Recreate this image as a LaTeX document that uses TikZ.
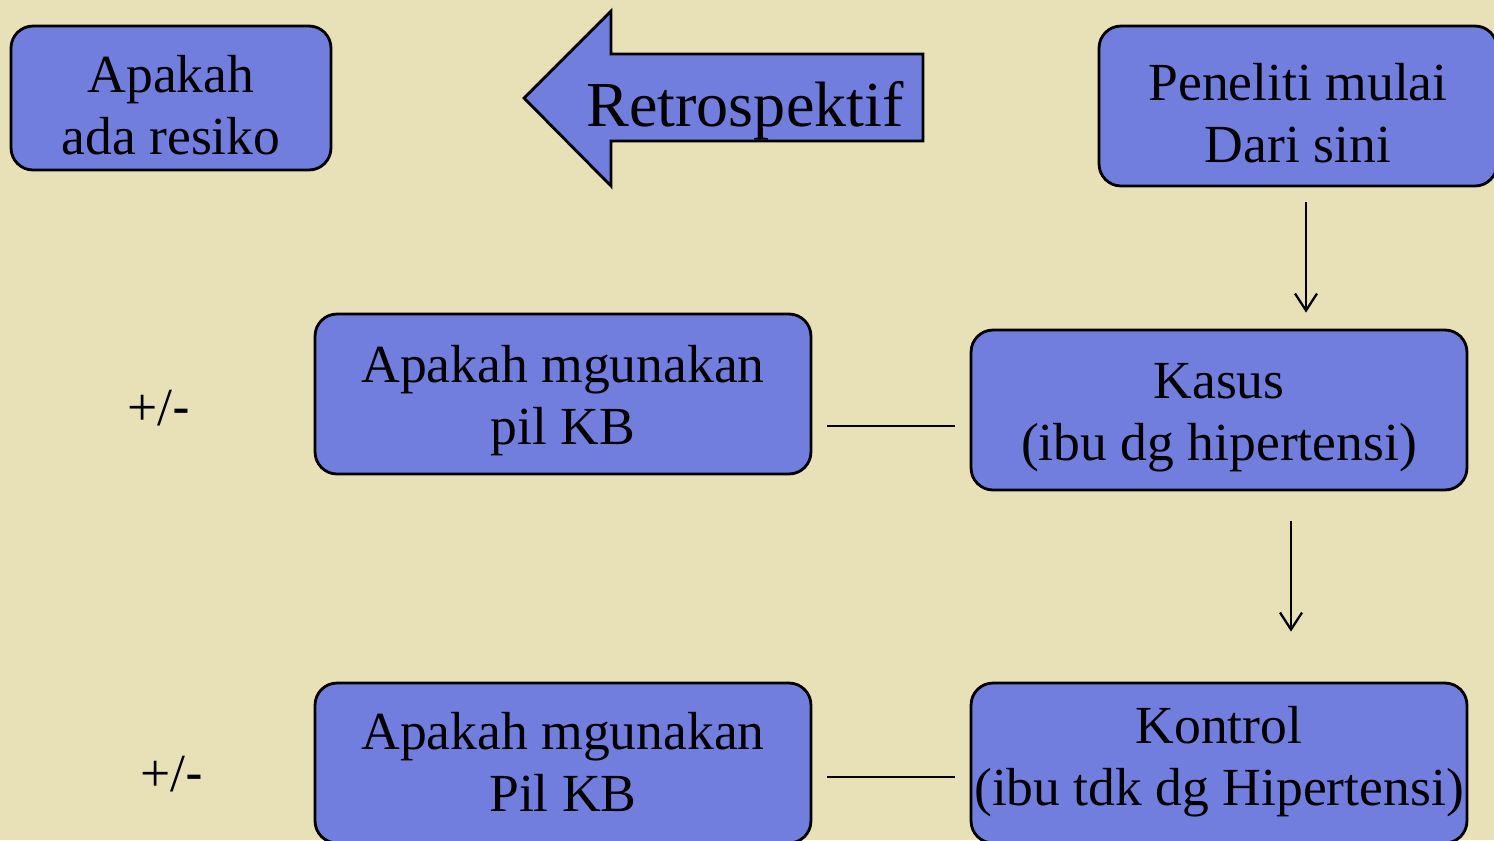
\documentclass[tikz,border=0pt]{standalone}
\usepackage{fontspec}
\setmainfont{Liberation Serif}
\newfontfamily\dashfont{Liberation Sans}
\usetikzlibrary{arrows.meta}
\definecolor{slidebg}{RGB}{232,225,183}
\definecolor{boxblue}{RGB}{113,126,222}

\begin{document}
\begin{tikzpicture}[x=0.02cm, y=-0.02cm,
        box/.style={rectangle, draw=black, fill=boxblue, line width=1.6pt, rounded corners=0.44cm, minimum width=9.92cm, minimum height=3.2cm, inner sep=0pt, text height=2.26cm, align=center, font=\fontsize{30.5}{35.3}\selectfont},
        arrow/.style={-{Straight Barb[length=0.34cm, width=0.44cm]}, line width=1.3pt},
        link/.style={line width=1.3pt},
        sign/.style={anchor=base west, inner sep=0pt, font=\fontsize{30.5}{35.3}\selectfont}
      ]
        \fill[slidebg] (0,0) rectangle (1494,840);
        \useasboundingbox (0,0) rectangle (1494,840);

        % top row
        \node[box, minimum width=6.4cm, minimum height=2.88cm] at (171, 98) (risk) {Apakah\\ada resiko};
        \draw[draw=black, fill=boxblue, line width=1.6pt] (524,98) -- (611,11) -- (611,54) -- (923,54) -- (923,141) -- (611,141) -- (611,186) -- cycle;
        \node[anchor=base, inner sep=0pt, font=\fontsize{36.5}{40}\selectfont] at (745, 126) (retro) {Retrospektif};
        \node[box, minimum width=7.96cm] at (1298, 106) (start) {Peneliti mulai\\Dari sini};

        % middle and bottom rows
        \node[box] at (1219, 410) (kasus)  {Kasus\\(ibu dg hipertensi)};
        \node[box, text height=1.94cm] at (1219, 763) (kontrol){Kontrol\\(ibu tdk dg Hipertensi)};
        \node[box] at (563, 394)  (pil)    {Apakah mgunakan\\pil KB};
        \node[box, text height=1.94cm] at (563, 763)  (pilb)   {Apakah mgunakan\\Pil KB};

        \node[sign] at (127, 425) (pm)  {+/{\dashfont -}};
        \node[sign] at (140, 791) (pmb) {+/{\dashfont -}};

        \draw[arrow, shorten <=0.3cm, shorten >=0.32cm] ([xshift=0.16cm]start.south) -- ([xshift=0.16cm]start.south |- kasus.north);
        \draw[arrow, shorten <=0.6cm, shorten >=1cm] ([xshift=1.44cm]kasus.south) -- ([xshift=1.44cm]kasus.south |- kontrol.north);
        \draw[link, shorten <=0.3cm, shorten >=0.3cm] ([yshift=-0.64cm]pil.east) -- ([yshift=-0.64cm]pil.east -| kasus.west);
        \draw[link, shorten <=0.3cm, shorten >=0.3cm] ([yshift=-0.28cm]pilb.east) -- ([yshift=-0.28cm]pilb.east -| kontrol.west);
      \end{tikzpicture}
\end{document}
